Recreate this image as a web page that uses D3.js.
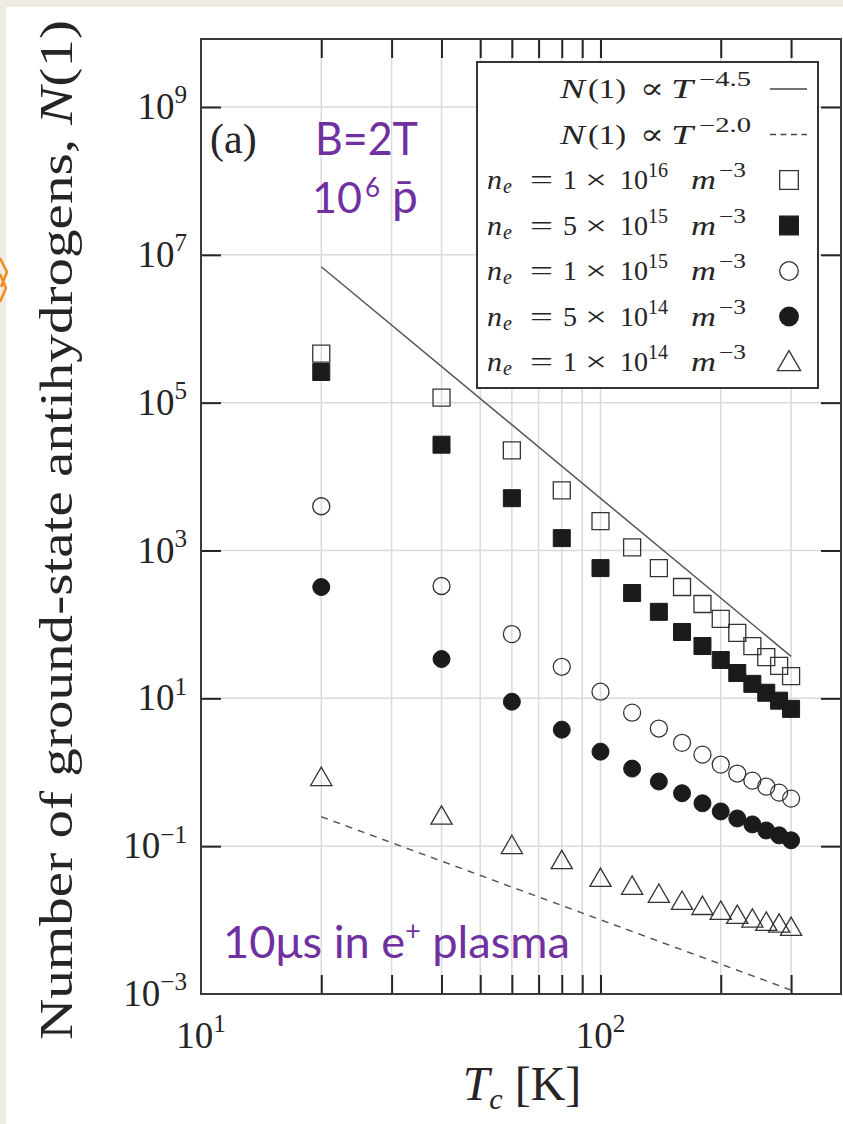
<!DOCTYPE html>
<html>
<head>
<meta charset="utf-8">
<script src="https://cdn.jsdelivr.net/npm/d3@7"></script>
<style>
  body { margin: 0; background: #fff; }
  svg { display: block; }
  text { white-space: pre; }
</style>
</head>
<body>
<svg id="chart" width="843" height="1124"></svg>
<script>
// ---- data -------------------------------------------------------------
const temperatures = [20, 40, 60, 80, 100, 120, 140, 160, 180, 200, 220, 240, 260, 280, 300];

const ne1e16 = [4.6e5, 1.17e5, 2.26e4, 6.5e3, 2.5e3, 1.1e3, 578, 321, 189, 119, 77, 51, 36, 27.5, 20];
const ne5e15 = [2.6e5, 2.7e4, 5.1e3, 1.47e3, 578, 266, 148, 79, 51, 33, 22, 15.7, 11.9, 9.3, 7.2];
const ne1e15 = [3970, 331, 74, 26.7, 12.3, 6.4, 3.9, 2.5, 1.73, 1.27, 0.96, 0.77, 0.64, 0.53, 0.44];
const ne5e14 = [320, 34, 9.0, 3.77, 1.9, 1.12, 0.75, 0.52, 0.38, 0.295, 0.237, 0.197, 0.163, 0.14, 0.12];
const ne1e14 = [0.80, 0.24, 0.096, 0.060, 0.0345, 0.027, 0.021, 0.0169, 0.0144, 0.0124, 0.0109, 0.0097, 0.0088, 0.0083, 0.0075];

// power-law guide lines (end points, T and N(1))
const powerLawSteep   = [[20, 6.9e6], [300, 37]];
const powerLawShallow = [[20, 0.25],  [300, 0.00113]];

const xTickValues = [20, 30, 40, 50, 60, 70, 80, 90, 100, 200, 300];
const xLabelValues = [10, 100];
const xLabelExponents = ['1', '2'];
const yTickValues = [1e-3, 1e-1, 1e1, 1e3, 1e5, 1e7, 1e9];
const yLabelExponents = ['−3', '−1', '1', '3', '5', '7', '9'];

const lawExponents = ['−4.5', '−2.0'];
const neMantissas = ['1', '5', '1', '5', '1'];
const neExponents = ['16', '15', '15', '14', '14'];

// ---- layout -----------------------------------------------------------
const W = 843, H = 1124;
const plot = { left: 201, right: 841, top: 39, bottom: 994 };
const ink = '#262424';
const gridColor = '#dadada';
const purple = '#7030a0';
const serif = '"Liberation Serif", "DejaVu Serif", serif';
const hand = 'Lato, "Noto Sans", sans-serif';

const svg = d3.select('#chart');

// page background with a thin beige border strip
svg.append('rect').attr('width', W).attr('height', H).attr('fill', '#efece4');
svg.append('rect').attr('x', 6).attr('y', 7).attr('width', W - 6).attr('height', H - 7).attr('fill', '#fff');
svg.append('path')
  .attr('d', 'M0,258 L7,272 L1,287 M0,274 L6,288 L0,302')
  .attr('fill', 'none').attr('stroke', '#f28a1e').attr('stroke-width', 2.5);

// ---- scales -----------------------------------------------------------
const x = d3.scaleLog().domain([10, 400]).range([plot.left, plot.right]);
const y = d3.scaleLog().domain([1e-3, 1e9]).range([plot.bottom, 107]);

// ---- grid -------------------------------------------------------------
const grid = svg.append('g');
grid.selectAll('line.v').data(xTickValues).join('line')
  .attr('class', 'v')
  .attr('x1', d => x(d)).attr('x2', d => x(d))
  .attr('y1', plot.top).attr('y2', plot.bottom)
  .attr('stroke', gridColor).attr('stroke-width', 1.5);
grid.selectAll('line.h').data(yTickValues.slice(1)).join('line')
  .attr('class', 'h')
  .attr('x1', plot.left).attr('x2', plot.right)
  .attr('y1', d => y(d)).attr('y2', d => y(d))
  .attr('stroke', gridColor).attr('stroke-width', 1.5);

// ---- inward ticks on all four sides ----------------------------------
function styleAxis(g) {
  g.select('.domain').remove();
  g.selectAll('.tick line').attr('stroke', ink).attr('stroke-width', 2);
}
svg.append('g').attr('transform', `translate(0,${plot.bottom})`)
  .call(d3.axisBottom(x).tickValues(xTickValues).tickSize(-19).tickFormat(''))
  .call(styleAxis);
svg.append('g').attr('transform', `translate(0,${plot.top})`)
  .call(d3.axisTop(x).tickValues(xTickValues).tickSize(-19).tickFormat(''))
  .call(styleAxis);
svg.append('g').attr('transform', `translate(${plot.left},0)`)
  .call(d3.axisLeft(y).tickValues(yTickValues.slice(1)).tickSize(-20).tickFormat(''))
  .call(styleAxis);
svg.append('g').attr('transform', `translate(${plot.right},0)`)
  .call(d3.axisRight(y).tickValues(yTickValues.slice(1)).tickSize(-20).tickFormat(''))
  .call(styleAxis);

// ---- power-law guide lines -------------------------------------------
const line = d3.line().x(d => x(d[0])).y(d => y(d[1]));
svg.append('path').datum(powerLawSteep).attr('d', line)
  .attr('fill', 'none').attr('stroke', '#555').attr('stroke-width', 1.5);
svg.append('path').datum(powerLawShallow).attr('d', line)
  .attr('fill', 'none').attr('stroke', '#555').attr('stroke-width', 1.4)
  .attr('stroke-dasharray', '7,6');

// ---- markers ----------------------------------------------------------
const series = [
  { values: ne1e16, type: d3.symbolSquare,   size: 289, filled: false },
  { values: ne5e15, type: d3.symbolSquare,   size: 289, filled: true  },
  { values: ne1e15, type: d3.symbolCircle,   size: 227, filled: false },
  { values: ne5e14, type: d3.symbolCircle,   size: 227, filled: true  },
  { values: ne1e14, type: d3.symbolTriangle, size: 195, filled: false }
];
series.forEach(s => {
  const sym = d3.symbol().type(s.type).size(s.size);
  svg.append('g').selectAll('path')
    .data(temperatures.map((t, i) => [t, s.values[i]]))
    .join('path')
    .attr('d', sym)
    .attr('transform', d => `translate(${x(d[0])},${y(d[1])})`)
    .attr('fill', s.filled ? '#1c1a1a' : 'none')
    .attr('stroke', s.filled ? '#1c1a1a' : '#333')
    .attr('stroke-width', s.filled ? 1 : 1.3);
});

// ---- frame ------------------------------------------------------------
svg.append('rect')
  .attr('x', plot.left).attr('y', plot.top)
  .attr('width', plot.right - plot.left).attr('height', plot.bottom - plot.top)
  .attr('fill', 'none').attr('stroke', '#3a3a3a').attr('stroke-width', 2);

// ---- tick labels ------------------------------------------------------
function powerLabel(g, base, exp, size) {
  g.append('tspan').text(base);
  g.append('tspan').text(exp).attr('font-size', size * 0.68).attr('dy', -size * 0.42);
}
yTickValues.forEach((v, i) => {
  const t = svg.append('text')
    .attr('x', 187).attr('y', y(v) + 12)
    .attr('text-anchor', 'end')
    .attr('font-family', serif).attr('font-size', 37).attr('fill', ink);
  powerLabel(t, '10', yLabelExponents[i], 37);
});
xLabelValues.forEach((v, i) => {
  const t = svg.append('text')
    .attr('x', x(v)).attr('y', 1048)
    .attr('text-anchor', 'middle')
    .attr('font-family', serif).attr('font-size', 37).attr('fill', ink);
  powerLabel(t, '10', xLabelExponents[i], 37);
});

// ---- axis titles ------------------------------------------------------
const xt = svg.append('text')
  .attr('x', 522).attr('y', 1100).attr('text-anchor', 'middle')
  .attr('font-family', serif).attr('font-size', 48).attr('fill', ink);
xt.append('tspan').text('T').attr('font-style', 'italic');
xt.append('tspan').text('c').attr('font-style', 'italic').attr('font-size', 30).attr('dy', 9);
xt.append('tspan').text(' [K]').attr('dy', -9);

const yt = svg.append('text')
  .attr('transform', 'translate(72,530) rotate(-90)')
  .attr('text-anchor', 'middle')
  .attr('font-family', serif).attr('font-size', 47).attr('fill', ink)
  .attr('textLength', 1020).attr('lengthAdjust', 'spacingAndGlyphs');
yt.append('tspan').text('Number of ground-state antihydrogens, ');
yt.append('tspan').text('N').attr('font-style', 'italic');
yt.append('tspan').text('(1)');

// panel tag
svg.append('text').attr('x', 210).attr('y', 153)
  .attr('font-family', serif).attr('font-size', 42).attr('fill', ink).text('(a)');

// ---- legend -----------------------------------------------------------
const legend = { x: 477, y: 62, w: 341, h: 326, row0: 89, step: 45.5, symX: 789 };
svg.append('rect')
  .attr('x', legend.x).attr('y', legend.y).attr('width', legend.w).attr('height', legend.h)
  .attr('fill', '#fff').attr('stroke', '#333').attr('stroke-width', 2);

const lf = 28;           // legend font size
const smallSize = 20;    // super/subscript size
// Math-style row: each segment is [string, style, x offset, optional width]
function drawRow(x0, baseline, segs) {
  const g = svg.append('g').attr('font-family', serif).attr('fill', ink);
  segs.forEach(([str, style, dx, w]) => {
    const t = g.append('text').text(str).attr('x', x0 + dx)
      .attr('font-size', lf).attr('y', baseline);
    if (style.includes('i')) t.attr('font-style', 'italic');
    if (style.includes('sup')) t.attr('font-size', smallSize).attr('y', baseline - 12);
    if (style.includes('sub')) t.attr('font-size', smallSize).attr('y', baseline + 4);
    if (w) t.attr('textLength', w).attr('lengthAdjust', 'spacingAndGlyphs');
  });
}

lawExponents.forEach((e, i) => {
  const cy = legend.row0 + i * legend.step;
  drawRow(560, cy + 9, [
    ['N', 'i', 0, 25], ['(1)', 'r', 28, 38], ['∝', 'r', 80, 24], ['T', 'i', 111, 22], [e, 'sup', 139, 52]
  ]);
  svg.append('line')
    .attr('x1', 770).attr('x2', 807).attr('y1', cy).attr('y2', cy)
    .attr('stroke', '#444').attr('stroke-width', 1.5)
    .attr('stroke-dasharray', i === 1 ? '6,4.5' : null);
});

series.forEach((s, i) => {
  const cy = legend.row0 + (i + 2) * legend.step;
  drawRow(487, cy + 9, [
    ['n', 'i', 0, 15], ['e', 'i sub', 16], ['=', 'r', 43, 23], [neMantissas[i], 'r', 76],
    ['×', 'r', 98, 22], ['10', 'r', 133], [neExponents[i], 'sup', 161],
    ['m', 'i', 204, 25], ['−3', 'sup', 232, 27]
  ]);
  svg.append('path')
    .attr('d', d3.symbol().type(s.type).size(s.size * 1.2)())
    .attr('transform', `translate(${legend.symX},${cy + (s.type === d3.symbolTriangle ? 2 : 0)})`)
    .attr('fill', s.filled ? '#1c1a1a' : 'none')
    .attr('stroke', s.filled ? '#1c1a1a' : '#333')
    .attr('stroke-width', 1.3);
});

// ---- handwritten annotations -----------------------------------------
const ann = svg.append('g').attr('font-family', hand).attr('fill', purple);
ann.append('text').attr('x', 315).attr('y', 155).attr('font-size', 46)
  .attr('textLength', 103).attr('lengthAdjust', 'spacingAndGlyphs').text('B=2T');
ann.append('text').attr('x', 312).attr('y', 213).attr('font-size', 43).text('10');
ann.append('text').attr('x', 365).attr('y', 197).attr('font-size', 26).text('6');
ann.append('text').attr('x', 392).attr('y', 213).attr('font-size', 46).text('p\u0304');

const plasma = ann.append('text').attr('x', 223).attr('y', 958).attr('font-size', 44)
  .attr('textLength', 347).attr('lengthAdjust', 'spacingAndGlyphs');
plasma.append('tspan').text('10μs in e');
plasma.append('tspan').text('+').attr('font-size', 26).attr('dy', -18);
plasma.append('tspan').text(' plasma').attr('dy', 18);
</script>
</body>
</html>
